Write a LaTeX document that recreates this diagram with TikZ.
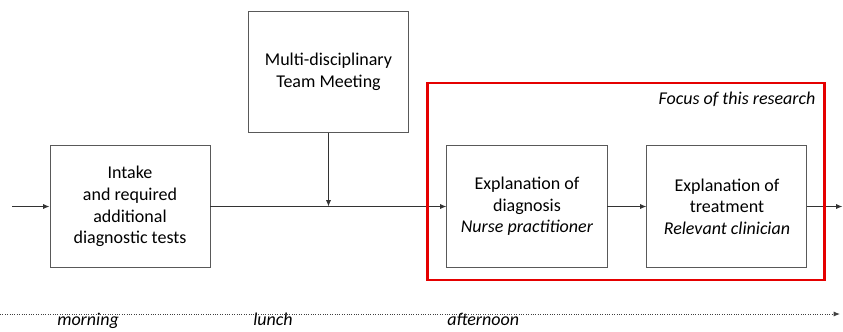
\documentclass[tikz,border=0pt]{standalone}
\usepackage{fontspec}
\setmainfont{Carlito}
\usetikzlibrary{
    arrows.meta,      % For arrow tip styles
    positioning,      % For relative positioning (right=of ...)
    calc              % For midpoints and shifted corners
}

\begin{document}
\begin{tikzpicture}[
    % Define styles
    stepbox/.style={rectangle, draw=black!65, line width=0.7pt, minimum width=4cm, minimum height=3.05cm, align=center, font=\fontsize{12.8}{15.4}\selectfont}, % Process step
    meetbox/.style={stepbox, minimum height=3.025cm}, % Meeting step
    arrow/.style={draw=black!80, line width=0.7pt, -{Latex[length=1.6mm, width=1.3mm]}}, % Arrow style
    focusbox/.style={draw=red!90!black, line width=1.8pt}, % Box around the research focus
    timeline/.style={draw=black!75, line width=0.7pt, densely dotted, -{Latex[length=1.6mm, width=1.3mm]}}, % Time axis
    timelbl/.style={anchor=base west, inner sep=0pt, font=\fontsize{12.8}{15}\itshape} % Time of day labels
]
\useasboundingbox (0,0) rectangle (21.075,-8.275);

% ----- PROCESS STEPS -----
\coordinate (start) at (0.3,-5.1625);
\node (intake)    [stepbox] at (3.25,-5.1625) {Intake\\and required\\additional\\diagnostic tests};
\node (diagnosis) [stepbox, right=5.9cm of intake] {Explanation of\\diagnosis\\\textit{Nurse practitioner}};
\node (treatment) [stepbox, right=0.975cm of diagnosis] {Explanation of\\treatment\\\textit{Relevant clinician}};
\coordinate [right=0.875cm of treatment] (finish);
\coordinate (drop) at ($(intake.east)!0.5!(diagnosis.west)$);
\node (mdt)       [meetbox, above=1.85cm of drop] {Multi-disciplinary\\Team Meeting};

% Draw arrows
\draw [arrow] (start) -- (intake);
\draw [arrow] (intake) -- (diagnosis);
\draw [arrow] (mdt) -- (drop);
\draw [arrow] (diagnosis) -- (treatment);
\draw [arrow] (treatment) -- (finish);

% ----- FOCUS OF THIS RESEARCH -----
\coordinate (focus_sw) at ($(diagnosis.south west)+(-0.475,-0.3)$);
\coordinate (focus_ne) at ($(treatment.north east)+(0.425,1.55)$);
\draw [focusbox] (focus_sw) rectangle (focus_ne);
\node (focus_label) [anchor=base east, font=\fontsize{12.8}{15}\itshape, inner sep=0pt] at ($(focus_ne)+(-0.22,-0.525)$) {Focus of this research};

% ----- TIME AXIS -----
\coordinate (time_start) at (0,-7.85);
\coordinate (time_end) at (21.0,-7.85);
\draw [timeline] (time_start) -- (time_end);
\node (morning)   [timelbl] at (1.425,-8.14) {morning};
\node (lunch)     [timelbl] at (6.325,-8.14) {lunch};
\node (afternoon) [timelbl] at (11.175,-8.14) {afternoon};

\end{tikzpicture}
\end{document}
